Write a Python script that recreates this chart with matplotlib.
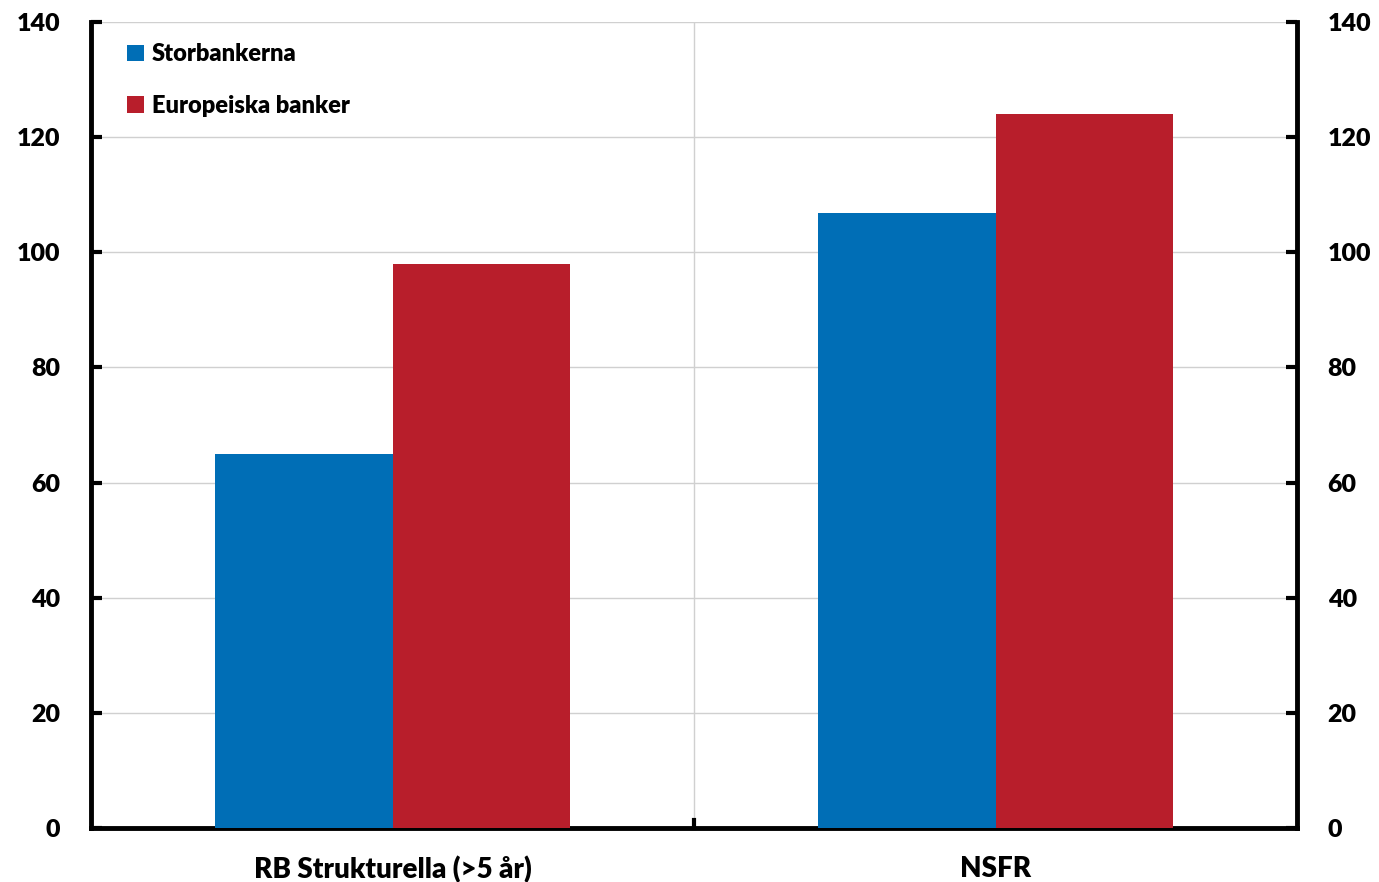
import matplotlib
matplotlib.use("Agg")
import matplotlib.pyplot as plt
import numpy as np

categories = ["RB Strukturella (>5 år)", "NSFR"]
series_names = ["Storbankerna", "Europeiska banker"]
storbankerna = [65, 106.8]
europeiska = [98, 124]
yticks = [0, 20, 40, 60, 80, 100, 120, 140]

plt.rcParams['font.family'] = ['Lato', 'DejaVu Sans']
plt.rcParams['font.weight'] = 'bold'

fig = plt.figure(figsize=(13.79, 8.82), dpi=100)
ax = fig.add_axes([91/1379, 54/882, (1297-91)/1379, (828-22)/882])

x = np.arange(len(categories))
w = 0.294
b1 = ax.bar(x - w/2, storbankerna, w, color="#006EB6", label=series_names[0], zorder=3)
b2 = ax.bar(x + w/2, europeiska, w, color="#B81E2B", label=series_names[1], zorder=3)

ax.set_xlim(-0.5, 1.5)
ax.set_ylim(0, 140)
ax.set_yticks(yticks)
ax.set_yticklabels([str(t) for t in yticks], fontsize=18, fontweight='heavy')
ax.set_xticks(x)
ax.set_xticklabels(categories, fontsize=20, fontweight='heavy')
ax.tick_params(axis='x', length=0, pad=20)
ax.tick_params(axis='y', direction='in', length=8, width=3, pad=22, labelright=True, right=True)

for yv in yticks[1:]:
    ax.axhline(yv, color="#D0D0D0", lw=1, zorder=1)
ax.axvline(0.5, color="#D0D0D0", lw=1, zorder=1)
ax.plot([0.5, 0.5], [0, 140*8/806], color='black', lw=3, zorder=4, clip_on=False)

for s in ['left', 'right', 'bottom']:
    ax.spines[s].set_linewidth(3.5)
    ax.spines[s].set_color('black')
ax.spines['top'].set_visible(False)

leg = ax.legend(loc='upper left', bbox_to_anchor=(0.0125, 1.0), frameon=False,
                handlelength=0.7, handleheight=0.7, handletextpad=0.35,
                labelspacing=1.25, prop={'family': ['Lato', 'DejaVu Sans'], 'weight': 'heavy', 'size': 17})

fig.savefig("out.png", dpi=100)
